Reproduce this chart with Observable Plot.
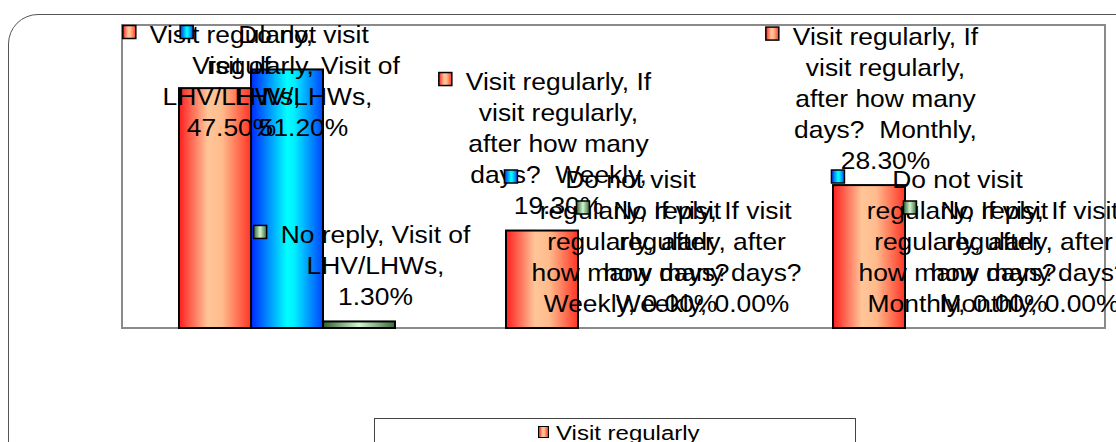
<!DOCTYPE html>
<html>
<head>
<meta charset="utf-8">
<script src="https://cdn.jsdelivr.net/npm/d3@7"></script>
<script src="https://cdn.jsdelivr.net/npm/@observablehq/plot@0.6"></script>
<style>
  body { margin: 0; background: #fff; font-family: "Liberation Sans", Arial, sans-serif; }
  #wrap { position: relative; width: 1116px; height: 442px; overflow: hidden; background: #fff; }
  #chart { position: absolute; left: 0; top: 0; }
  #outer { position: absolute; left: 8px; top: 14px; width: 1140px; height: 480px; border: 1.5px solid #555; border-radius: 30px; pointer-events: none; }
  #legend { position: absolute; left: 374px; top: 418px; width: 480px; height: 90px; border: 1px solid #444; background: #fff; }
  .lg-row { position: absolute; left: 0; width: 100%; height: 26px; }
  .lg-key { position: absolute; left: 163px; top: 7px; width: 9px; height: 10px; border: 1.5px solid #000; }
  .lg-text { position: absolute; left: 181px; top: 4px; font-size: 20px; line-height: 20px; white-space: nowrap; transform: scaleX(1.2); transform-origin: left center; color: #000; }
</style>
</head>
<body>
<div id="wrap">
  <div id="chart"></div>
  <div id="legend"></div>
  <div id="outer"></div>
</div>
<script>
// ---- Data ----
const groups = [
  "Visit of LHV/LHWs",
  "If visit regularly, after how many days?  Weekly",
  "If visit regularly, after how many days?  Monthly"
];
const series = ["Visit regularly", "Do not visit regularly", "No reply"];
const visitRegularly = [47.5, 19.3, 28.3];
const doNotVisitRegularly = [51.2, 0, 0];
const noReply = [1.3, 0, 0];
const yDomain = [0, 60];

// ---- Styles ----
const gradients = {
  "Visit regularly": {id: "gRed", stops: [[0, "#ff1f1f"], [0.4, "#ffc698"], [0.6, "#ffbb8c"], [1, "#ff3526"]]},
  "Do not visit regularly": {id: "gBlue", stops: [[0, "#0028ff"], [0.5, "#00ffff"], [0.6, "#00f0ff"], [1, "#0044ff"]]},
  "No reply": {id: "gGreen", stops: [[0, "#2f5f2f"], [0.5, "#d2f5d2"], [1, "#3a6a3a"]]}
};
const FONT = "'Liberation Sans', Arial, sans-serif";
const fontSize = 24, stretch = 1.1, lineH = 31, maxLineEm = 7.9;

const valuesBySeries = [visitRegularly, doNotVisitRegularly, noReply];
const data = [];
series.forEach((s, si) => groups.forEach((g, gi) => data.push({group: g, series: s, value: valuesBySeries[si][gi]})));

const W = 1116, H = 418, mL = 122, mR = 11, mT = 25, mB = 90;

const chart = Plot.plot({
  width: W, height: H,
  marginLeft: mL, marginRight: mR, marginTop: mT, marginBottom: mB,
  fx: {domain: groups, padding: 0, axis: null},
  x: {domain: series, paddingInner: 0, paddingOuter: 0.744, axis: null},
  y: {domain: yDomain, axis: null},
  color: {domain: series, range: series.map(s => `url(#${gradients[s].id})`)},
  style: {background: "transparent", fontFamily: FONT, overflow: "visible"},
  marks: [
    Plot.barY(data.filter(d => d.value > 0), {fx: "group", x: "series", y: "value", fill: "series", stroke: "#000", strokeWidth: 2})
  ]
});
document.getElementById("chart").appendChild(chart);

const svg = d3.select(chart);
const defs = svg.insert("defs", ":first-child");
function addGradient(sel, g) {
  const lg = sel.append("linearGradient").attr("id", g.id).attr("x1", "0").attr("x2", "1").attr("y1", "0").attr("y2", "0");
  g.stops.forEach(([o, c]) => lg.append("stop").attr("offset", o).attr("stop-color", c));
}
series.forEach(s => addGradient(defs, gradients[s]));

// Scales from Plot
const fxS = chart.scale("fx");
const xS = chart.scale("x");
const yS = chart.scale("y");
const fxApply = fxS ? fxS.apply : d3.scaleBand(groups, [mL, W - mR]);
const fxRange = fxS ? fxS.range : [mL, W - mR];
const xBand = xS.bandwidth != null ? xS.bandwidth : (xS.range[1] - xS.range[0]) / (series.length + 2 * 0.744);

// Plot area frame
svg.insert("rect", "defs + *")
  .attr("x", fxRange[0]).attr("y", Math.min(...yS.range))
  .attr("width", fxRange[1] - fxRange[0]).attr("height", Math.abs(yS.range[0] - yS.range[1]))
  .attr("fill", "none").attr("stroke", "#8a8a8a").attr("stroke-width", 2);

// Data labels (Excel-like: legend key + series, category, value)
const ctx = document.createElement("canvas").getContext("2d");
ctx.font = `${fontSize}px ${FONT}`;
const measure = t => ctx.measureText(t).width;
function wrap(text) {
  const toks = text.split(" ");
  const lines = [];
  let line = toks[0];
  for (let i = 1; i < toks.length; i++) {
    const cand = line + " " + toks[i];
    if (measure(cand.trim()) <= maxLineEm * fontSize) line = cand;
    else { lines.push(line.trim()); line = toks[i]; }
  }
  lines.push(line.trim());
  return lines;
}
const labels = svg.append("g").attr("font-family", FONT).attr("font-size", fontSize).attr("fill", "#000");
data.forEach(d => {
  const text = `${d.series}, ${d.group}, ${d.value.toFixed(2)}%`;
  const lines = wrap(text);
  const textW = Math.max(...lines.map(measure)) * stretch;
  const cx = fxApply(d.group) + xS.apply(d.series) - xS.range[0] + xBand / 2;
  const barTop = yS.apply(d.value);
  const lastBase = barTop - 16.5;
  const firstBase = Math.max(43, lastBase - (lines.length - 1) * lineH);
  const keyW = 13, gap = 14;
  const blockW = keyW + gap + textW;
  const left = cx + 3 - blockW / 2;
  const tcx = left + keyW + gap + textW / 2;
  labels.append("rect")
    .attr("x", left).attr("y", firstBase - 17.5).attr("width", keyW).attr("height", keyW)
    .attr("fill", `url(#${gradients[d.series].id})`).attr("stroke", "#000").attr("stroke-width", 1.5);
  lines.forEach((ln, i) => {
    labels.append("text")
      .attr("transform", `translate(${tcx},${firstBase + i * lineH}) scale(${stretch},1)`)
      .attr("text-anchor", "middle")
      .style("white-space", "pre")
      .text(ln);
  });
});

// Legend below the SVG
const legend = d3.select("#legend");
series.forEach((s, i) => {
  const row = legend.append("div").attr("class", "lg-row").style("top", `${i * 26}px`);
  const st = gradients[s].stops.map(([o, c]) => `${c} ${o * 100}%`).join(", ");
  row.append("div").attr("class", "lg-key").style("background", `linear-gradient(to right, ${st})`);
  row.append("div").attr("class", "lg-text").text(s);
});
</script>
</body>
</html>
